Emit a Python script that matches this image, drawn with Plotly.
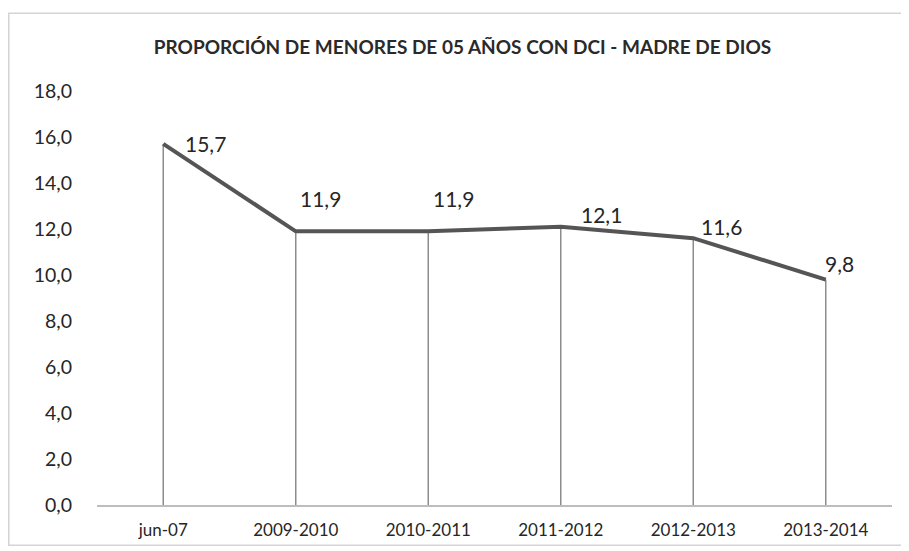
import plotly.graph_objects as go

categories = ["jun-07", "2009-2010", "2010-2011", "2011-2012", "2012-2013", "2013-2014"]
values = [15.7, 11.9, 11.9, 12.1, 11.6, 9.8]
label_texts = ["15,7", "11,9", "11,9", "12,1", "11,6", "9,8"]
y_ticks = [0, 2, 4, 6, 8, 10, 12, 14, 16, 18]

# label offsets (pixels) - style only
label_dx = [42, 25, 25, 41, 28, 14]
label_dy = [0, 33, 33, 12, 12, 16]

fig = go.Figure()
fig.add_trace(go.Scatter(
    x=categories, y=values, mode="lines",
    line=dict(color="#555555", width=4),
    error_y=dict(type="data", symmetric=False, array=[0] * len(values),
                 arrayminus=values, width=0, thickness=1.5, color="#8c8c8c"),
    hoverinfo="skip", showlegend=False,
))

for c, v, t, dx, dy in zip(categories, values, label_texts, label_dx, label_dy):
    fig.add_annotation(x=c, y=v, text=t, showarrow=False, xshift=dx, yshift=dy,
                       font=dict(family="Lato", size=21, color="#262626"))

fig.add_shape(type="rect", xref="paper", yref="paper",
              x0=-0.111, x1=1.019, y0=-0.097, y1=1.188,
              line=dict(color="#d4d4d4", width=1.5), fillcolor="rgba(0,0,0,0)")

fig.update_layout(
    width=909, height=551,
    margin=dict(l=89, r=25, t=83, b=54),
    paper_bgcolor="white", plot_bgcolor="white",
    separators=",.",
    title=dict(text="<b>PROPORCIÓN DE MENORES DE 05 AÑOS CON DCI - MADRE DE DIOS</b>",
               x=0.5, xanchor="center", y=0.929, yanchor="middle",
               font=dict(family="Lato", size=19, color="#2a2a2a")),
    xaxis=dict(range=[-0.5, 5.5], showgrid=False, showline=True, linecolor="#bdbdbd",
               linewidth=1.5, ticks="", tickfont=dict(family="Lato", size=17, color="#262626"),
               zeroline=False, fixedrange=True, ticklabelstandoff=9),
    yaxis=dict(range=[0, 18], tickvals=y_ticks, tickformat=".1f", showgrid=False,
               zeroline=False, showline=False, ticks="",
               tickfont=dict(family="Lato", size=19.5, color="#262626"), ticklabelstandoff=24),
    showlegend=False,
)

fig.write_html("out.html")
